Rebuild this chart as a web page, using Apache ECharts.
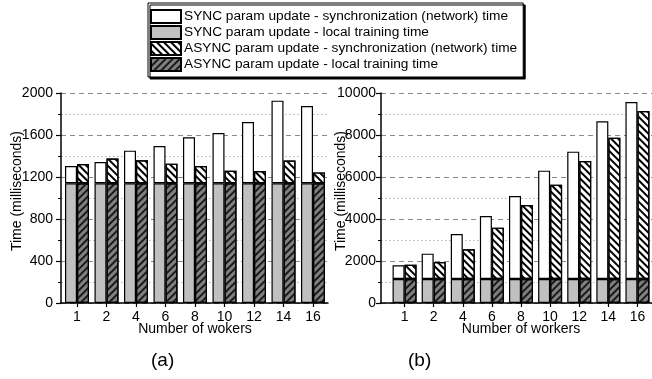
<!DOCTYPE html>
<html>
<head>
<meta charset="utf-8">
<script src="https://cdn.jsdelivr.net/npm/echarts@6/dist/echarts.min.js"></script>
<style>
html,body{margin:0;padding:0;background:#fff;}
#c{width:652px;height:379px;}
</style>
</head>
<body>
<div id="c"></div>
<script>
// ---- data ----
const categories = ['1', '2', '4', '6', '8', '10', '12', '14', '16'];
const seriesNames = [
  'SYNC param update - synchronization (network) time',
  'SYNC param update - local training time',
  'ASYNC param update - synchronization (network) time',
  'ASYNC param update - local training time'
];
// chart (a)
const aSyncLocal   = [1140, 1140, 1140, 1140, 1140, 1140, 1140, 1140, 1140];
const aSyncNet     = [165, 203, 311, 355, 438, 479, 584, 787, 736];
const aAsyncLocal  = [1140, 1140, 1140, 1140, 1140, 1140, 1140, 1140, 1140];
const aAsyncNet    = [184, 235, 219, 187, 165, 120, 117, 216, 104];
// chart (b)
const bSyncLocal   = [1140, 1140, 1140, 1140, 1140, 1140, 1140, 1140, 1140];
const bSyncNet     = [654, 1209, 2146, 3003, 3955, 5162, 6066, 7511, 8431];
const bAsyncLocal  = [1140, 1140, 1140, 1140, 1140, 1140, 1140, 1140, 1140];
const bAsyncNet    = [685, 812, 1416, 2447, 3527, 4495, 5622, 6733, 8003];
const yTicksA = {min: 0, max: 2000, interval: 400};
const yTicksB = {min: 0, max: 10000, interval: 2000};
const xLabelA = 'Number of wokers';
const xLabelB = 'Number of workers';
const yLabel = 'Time (milliseconds)';

// ---- styles ----
const FONT = 'Liberation Sans, Arial, sans-serif';
const border = {borderColor: '#000', borderWidth: 1.2};
const styles = {
  syncNet:   Object.assign({color: '#ffffff'}, border),
  syncLocal: Object.assign({color: '#c0c0c0'}, border),
  asyncNet:  Object.assign({color: '#ffffff', decal: {symbol: 'rect', symbolSize: 1, dashArrayX: [1, 0], dashArrayY: [1.3, 2.7], rotation: Math.PI / 4, color: '#000'}}, border),
  asyncLocal:Object.assign({color: '#808080', decal: {symbol: 'rect', symbolSize: 1, dashArrayX: [1, 0], dashArrayY: [1.3, 2.7], rotation: -Math.PI / 4, color: '#1a1a1a'}}, border)
};
const txt = {fontFamily: FONT, fontSize: 14, color: '#000'};

// axis grids (0,1): y axis, gridlines, x axis line
function axisX(gi) {
  return {type: 'category', gridIndex: gi, data: categories,
    axisLine: {show: true, lineStyle: {color: '#000', width: 1.5}},
    axisTick: {show: false}, axisLabel: {show: false}, splitLine: {show: false}};
}
function axisY(gi, t, gap, lm) {
  return {
    type: 'value', gridIndex: gi, min: t.min, max: t.max, interval: t.interval,
    name: yLabel, nameLocation: 'middle', nameGap: gap, nameRotate: 90, nameMoveOverlap: false,
    nameTextStyle: Object.assign({padding: [0, 0, 0, 14]}, txt),
    axisLine: {show: true, lineStyle: {color: '#000', width: 1.5}},
    axisTick: {show: true, length: 5, lineStyle: {color: '#000', width: 1.2}},
    minorTick: {show: true, splitNumber: 2, length: 3, lineStyle: {color: '#000', width: 1}},
    axisLabel: Object.assign({margin: lm, formatter: v => String(v)}, txt),
    splitLine: {show: true, lineStyle: {color: '#8a8a8a', type: [5, 4], width: 1}},
    minorSplitLine: {show: true, lineStyle: {color: '#b5b5b5', type: [1.5, 2.5], width: 1}}
  };
}
// bar grids (2,3): category axis with labels and ticks
function barX(gi, name) {
  return {type: 'category', gridIndex: gi, data: categories,
    name: name, nameLocation: 'middle', nameGap: 19, nameMoveOverlap: false, nameTextStyle: txt,
    axisLine: {show: false},
    axisTick: {show: true, alignWithLabel: true, length: 4, lineStyle: {color: '#000', width: 1.2}},
    axisLabel: Object.assign({margin: 7}, txt), splitLine: {show: false}};
}
function barY(gi, t) {
  return {type: 'value', gridIndex: gi, min: t.min, max: t.max, interval: t.interval, show: false,
    splitLine: {show: false}};
}
function bar(name, ai, stack, data, style) {
  return {
    name: name, type: 'bar', xAxisIndex: ai, yAxisIndex: ai, stack: stack + ai,
    data: data, barWidth: 12, barGap: '0%', itemStyle: style,
    emphasis: {disabled: true}
  };
}

const chart = echarts.init(document.getElementById('c'), null, {renderer: 'canvas'});
chart.setOption({
  animation: false,
  backgroundColor: '#fff',
  textStyle: {fontFamily: FONT},
  title: [
    {text: '(a)', left: 146, top: 346, textStyle: {fontFamily: FONT, fontSize: 19, fontWeight: 'normal', color: '#000'}},
    {text: '(b)', left: 403, top: 346, textStyle: {fontFamily: FONT, fontSize: 19, fontWeight: 'normal', color: '#000'}}
  ],
  legend: {
    data: seriesNames, orient: 'vertical', left: 148, top: 3,
    icon: 'rect', itemWidth: 30, itemHeight: 13, itemGap: 1,
    padding: [6, 6, 5, 2],
    borderColor: '#000', borderWidth: 1, backgroundColor: '#fff',
    shadowColor: '#000', shadowOffsetX: 2, shadowOffsetY: 2, shadowBlur: 0,
    textStyle: {fontFamily: FONT, fontSize: 13.7, color: '#000', padding: [0, 0, 0, -2]},
    selectedMode: false
  },
  grid: [
    {left: 61, width: 267, top: 93, bottom: 76},
    {left: 381, right: 0, top: 93, bottom: 76},
    {left: 62.25, width: 265.5, top: 93, bottom: 76},
    {left: 390, width: 267.75, top: 93, bottom: 76}
  ],
  xAxis: [axisX(0), axisX(1), barX(2, xLabelA), barX(3, xLabelB)],
  yAxis: [axisY(0, yTicksA, 37, 8), axisY(1, yTicksB, 33, 5), barY(2, yTicksA), barY(3, yTicksB)],
  series: [
    bar(seriesNames[1], 2, 'sync', aSyncLocal, styles.syncLocal),
    bar(seriesNames[0], 2, 'sync', aSyncNet, styles.syncNet),
    bar(seriesNames[3], 2, 'async', aAsyncLocal, styles.asyncLocal),
    bar(seriesNames[2], 2, 'async', aAsyncNet, styles.asyncNet),
    bar(seriesNames[1], 3, 'sync', bSyncLocal, styles.syncLocal),
    bar(seriesNames[0], 3, 'sync', bSyncNet, styles.syncNet),
    bar(seriesNames[3], 3, 'async', bAsyncLocal, styles.asyncLocal),
    bar(seriesNames[2], 3, 'async', bAsyncNet, styles.asyncNet)
  ]
});
</script>
</body>
</html>
